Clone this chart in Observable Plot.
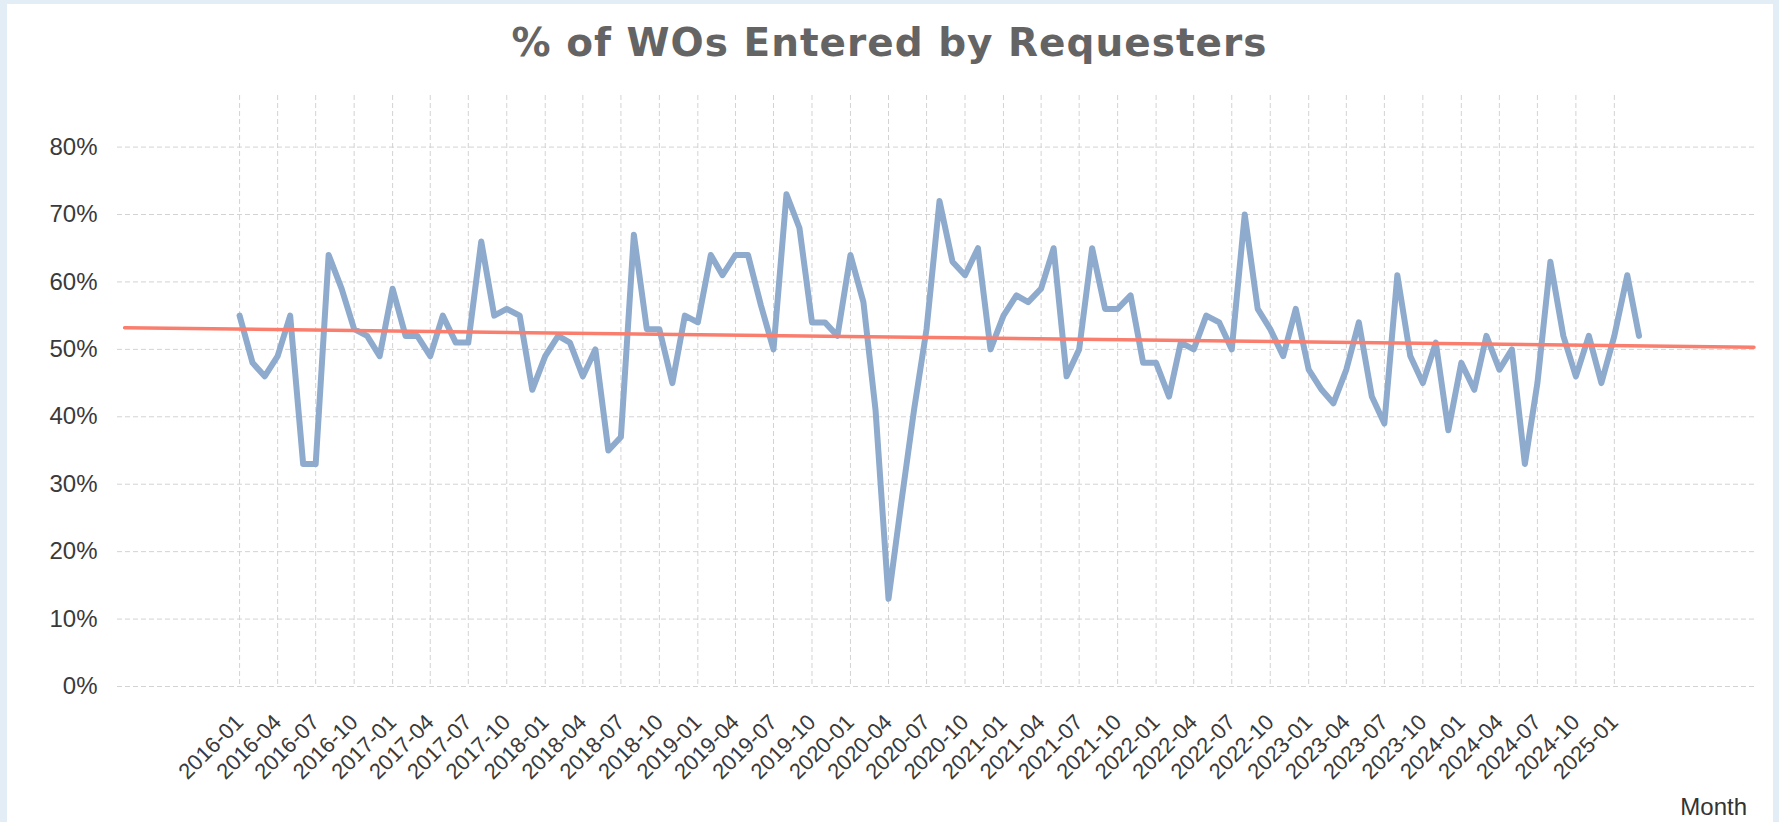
<!DOCTYPE html>
<html>
<head>
<meta charset="utf-8">
<script src="https://cdn.jsdelivr.net/npm/d3@7"></script>
<script src="https://cdn.jsdelivr.net/npm/@observablehq/plot@0.6"></script>
<style>
  html, body { margin: 0; padding: 0; width: 1779px; height: 822px; overflow: hidden; background: #e3edf5; }
  #panel { position: absolute; left: 7px; top: 4px; width: 1766px; height: 818px; background: #ffffff; }
  #chart { position: absolute; left: 0; top: 0; }
  #title { position: absolute; left: 0; top: 23px; width: 1779px; text-align: center;
           font-family: "DejaVu Sans", Verdana, sans-serif; font-weight: bold; font-size: 39px;
           line-height: 39px; letter-spacing: 1px; color: #646464; white-space: nowrap; }
  #xlabel { position: absolute; right: 32px; top: 795px; font-family: "Liberation Sans", Arial, sans-serif;
            font-size: 24px; line-height: 24px; color: #333333; }
  .xaxis text { font-size: 22px; }
</style>
</head>
<body>
<div id="panel"></div>
<div id="chart"></div>
<div id="title">% of WOs Entered by Requesters</div>
<div id="xlabel">Month</div>
<script>
// First and last month of the series (monthly data)
const firstMonth = "2016-01";
const lastMonth = "2025-03";

// % of WOs entered by requesters, one value per month from 2016-01 to 2025-03
const values = [
  55, 48, 46, 49, 55, 33, 33, 64, 59, 53, 52, 49,   // 2016
  59, 52, 52, 49, 55, 51, 51, 66, 55, 56, 55, 44,   // 2017
  49, 52, 51, 46, 50, 35, 37, 67, 53, 53, 45, 55,   // 2018
  54, 64, 61, 64, 64, 56.5, 50, 73, 68, 54, 54, 52, // 2019
  64, 57, 41, 13, 27, 41, 53, 72, 63, 61, 65, 50,   // 2020
  55, 58, 57, 59, 65, 46, 50, 65, 56, 56, 58, 48,   // 2021
  48, 43, 51, 50, 55, 54, 50, 70, 56, 53, 49, 56,   // 2022
  47, 44, 42, 47, 54, 43, 39, 61, 49, 45, 51, 38,   // 2023
  48, 44, 52, 47, 50, 33, 45, 63, 52, 46, 52, 45,   // 2024
  52, 61, 52                                        // 2025
];

// Trend line end points
const trendMonths = ["2015-04", "2025-12"];
const trendValues = [53.2, 50.3];

// Axis ticks
const yTicks = [0, 10, 20, 30, 40, 50, 60, 70, 80];
const xTickFirst = "2016-01";
const xTickLast = "2025-01";

const parseMonth = d3.utcParse("%Y-%m");
const months = d3.utcMonth.range(parseMonth(firstMonth), d3.utcMonth.offset(parseMonth(lastMonth), 1));
const data = months.map((m, i) => ({month: m, value: values[i]}));
const trend = trendMonths.map((m, i) => ({month: parseMonth(m), value: trendValues[i]}));
const xTicks = d3.utcMonth.every(3).range(parseMonth(xTickFirst), d3.utcMonth.offset(parseMonth(xTickLast), 1));

const gridColor = "#d3d3d3";

const chart = Plot.plot({
  width: 1779,
  height: 822,
  marginLeft: 117,
  marginRight: 23,
  marginTop: 95,
  marginBottom: 136,
  style: {background: "transparent", fontFamily: "'Liberation Sans', Arial, sans-serif", fontSize: "24px", color: "#3a3a3a", overflow: "visible"},
  x: {type: "utc", domain: [new Date(Date.UTC(2015, 2, 15)), new Date(Date.UTC(2025, 11, 7))]},
  y: {domain: [0, 87.65]},
  marks: [
    Plot.gridY(yTicks, {stroke: gridColor, strokeOpacity: 1, strokeWidth: 1, strokeDasharray: "5,3"}),
    Plot.gridX(xTicks, {stroke: gridColor, strokeOpacity: 1, strokeWidth: 1, strokeDasharray: "5,3"}),
    Plot.axisY(yTicks, {tickSize: 0, tickPadding: 20, tickFormat: d => d + "%", label: null}),
    Plot.axisX(xTicks, {tickSize: 0, tickPadding: 32, tickRotate: -45, tickFormat: d3.utcFormat("%Y-%m"), label: null, className: "xaxis"}),
    Plot.line(data, {x: "month", y: "value", stroke: "#8eabcd", strokeWidth: 6}),
    Plot.line(trend, {x: "month", y: "value", stroke: "#fa7e6e", strokeWidth: 3.5})
  ]
});
document.getElementById("chart").appendChild(chart);
</script>
</body>
</html>
